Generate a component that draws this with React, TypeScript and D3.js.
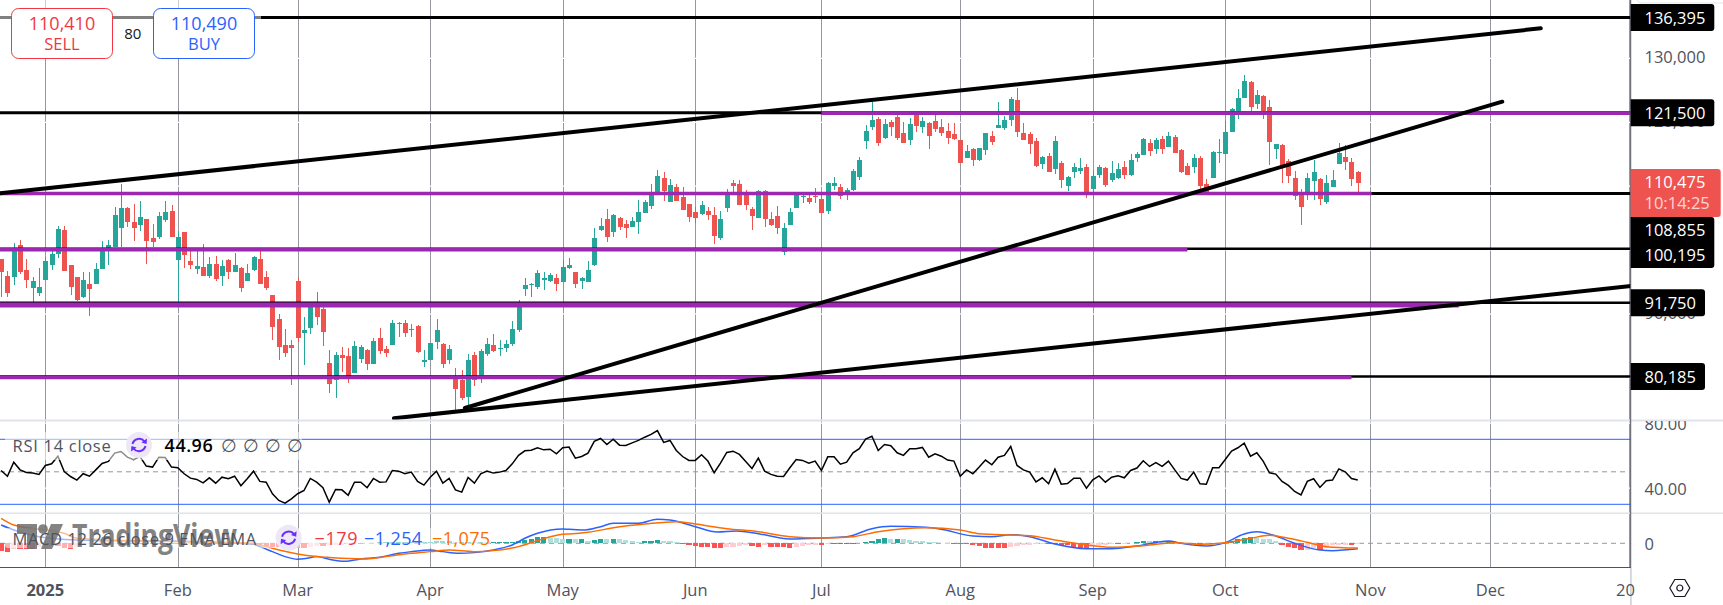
import React from 'react';
import * as d3 from 'd3';

const FIRST_BAR = -7;
const opens = [
98590,95930,95770,100780,96870,94050,93270,95300,97650,99370,
103130,97650,95770,92640,94670,94670,97020,100000,100420,103440,
106580,104380,103910,104850,101880,102040,104700,106110,98430,102820,
98280,97020,97340,95930,97810,95930,98430,96550,97180,95140,
96870,98590,95770,92950,89190,85120,85120,95140,87000,87780,
91390,90760,82300,79640,83560,83400,80740,82930,84340,82150,
86220,84500,85120,88570,88570,87630,88100,82460,82770,85590,
85280,82770,80110,79640,76980,83560,80420,83710,85120,84500,
84650,85280,87470,93890,94570,94200,95300,95140,95610,94990,
97180,96550,95140,94990,97650,103130,104850,102820,105010,104070,
103600,104380,105790,106890,109130,111270,107520,109870,108300,107200,
105950,105640,106110,105480,101880,106580,110490,110330,108610,106420,
105010,109240,104850,105320,99690,103910,106580,108350,108140,108450,
107990,106110,110020,109870,109080,109400,111430,117070,119260,120510,
117540,120040,120830,118320,117230,121400,119260,119890,120200,119260,
118630,118170,117230,114410,115820,114090,115660,117850,119100,119100,
120360,123490,118320,118170,117070,113470,114720,112680,113620,110020,
112210,112370,113000,109550,111740,112840,110960,111270,113000,111740,
114410,114880,116760,115820,117380,116130,117700,115660,113150,113000,
114410,110340,111270,115240,115030,118480,121820,123800,126310,122860,
124120,122390,115820,116440,113940,111270,108610,108770,110800,111120,
107520,109870,113470,114560,113780,112210];
const highs = [
98590,96710,101100,101570,98590,95770,97180,98900,99890,103760,
103760,97650,95770,96550,96550,97960,101410,101570,106730,110330,
106730,107200,107670,104850,104070,105950,107670,107050,102970,102820,
100000,100000,100940,98900,99060,98430,98590,99530,97340,97810,
99060,100000,96710,92950,89980,87630,85900,95770,89510,91390,
93420,91390,84340,84030,84810,84650,85750,85120,84500,86220,
87780,84970,89040,88720,89040,88410,88250,84340,85440,89190,
85440,85120,81520,81210,83710,84030,84500,86220,86850,85900,
85900,88880,92170,95610,94830,96870,96550,96400,96240,98430,
98750,96550,95770,98280,103440,105010,106420,105640,105170,104700,
105170,107830,107830,110330,112530,112210,111120,110330,109870,107200,
106730,107670,106730,106730,106110,109550,110960,110960,109400,106730,
109400,109400,105950,106890,104230,106580,108930,108930,108610,109710,
108610,110650,111430,110330,109710,112680,114560,119570,123180,120830,
120510,120360,121140,120040,120670,121660,120830,120040,121140,120510,
119890,119890,117230,116440,115970,115970,118320,118630,123180,120980,
123960,125370,119890,118480,117540,114720,115190,117850,113940,111590,
113620,114410,113470,112530,113310,113000,113940,113620,113940,115030,
115350,117540,117380,117540,117850,118480,118010,115820,113620,115030,
114720,111120,115500,117380,120200,122240,125210,127400,126460,125060,
124270,123490,116600,116600,114250,112370,109550,112060,114090,111270,
111740,112530,116760,116440,114410,112370];
const lows = [
92590,92690,94520,96240,94050,91910,92800,95300,96870,98750,
96710,92950,92010,92480,89660,94670,97020,97650,100420,100420,
103600,101410,102970,97810,100420,101720,104380,102040,91960,97180,
97020,96240,95930,95610,95140,94360,95460,96550,93420,95140,
96710,94670,93740,85900,82770,83240,78860,85590,81990,86850,
88250,84970,77610,76820,80890,79120,80740,82300,81210,82150,
83710,83240,85120,86370,86370,86370,83870,81680,82770,84500,
81520,82150,74940,76510,75410,78700,79170,83400,84030,83400,
84030,84970,87160,92800,92640,93890,93740,94990,93580,94990,
97020,94050,93890,94990,97490,102970,101250,102040,103130,101880,
103600,102500,105790,106420,109130,107670,107520,107670,106260,104380,
104230,105480,104700,100940,101570,105950,108610,107050,106260,103130,
105010,103600,103760,102500,99220,103910,106580,107360,107200,107360,
105790,105640,109400,107990,107830,109240,110960,115820,118790,116290,
117380,117850,117230,116760,116440,118480,118320,115820,118480,117850,
116600,117230,113620,114410,113150,113940,114880,116440,119100,118790,
119420,117700,117230,115030,113000,112680,112210,111900,109710,109240,
111270,111900,108140,107990,111270,109870,110650,111120,111120,111590,
113780,114880,114720,115030,115030,116130,115190,112060,111740,112060,
109400,108870,111270,113620,115030,118480,120510,123800,121770,122080,
120510,113310,114250,110490,110490,107830,103910,107830,107830,107050,
107200,109870,113470,112530,110020,109080];
const closes = [
96550,93270,100100,96550,95300,95140,94200,98280,99370,103290,
96710,94200,92170,95300,93890,97020,99840,100780,105480,106580,
104380,103440,105170,101410,101250,105320,105950,102040,102040,99220,
97650,97490,95930,97810,95460,97490,96550,97650,94050,96400,
98900,94670,94050,87940,84810,83870,84650,86220,87470,91390,
89510,87160,79010,83560,83090,79900,84970,84810,82150,85750,
84180,83870,88570,88410,87000,87520,84030,82770,85440,87470,
82150,84500,78230,76820,82770,79640,84180,85280,84180,84600,
85280,87630,91390,94520,94670,96400,95610,96080,94670,97340,
97650,94670,95610,96870,101880,103760,102040,105480,103600,103440,
104540,105950,107520,108610,111590,109240,110180,107670,106260,105170,
105010,107050,105480,102190,104850,108610,110020,107050,107050,105320,
109240,104850,103910,103440,103440,105950,108610,108450,107520,108350,
105790,110490,110490,108450,109400,112370,114090,118630,120360,116760,
119730,119260,117540,116760,119730,119420,120200,117850,118950,118320,
117540,117380,113620,115500,114090,115970,118320,116910,119570,120360,
123650,118480,117230,116600,113150,114560,112210,117070,110960,111430,
113000,112840,109080,111590,113000,110180,112060,112680,111740,114090,
115030,117380,115500,117230,115820,117850,115190,112210,111740,114410,
110020,109080,115350,115350,118480,122080,123800,126460,122390,124270,
121770,116910,116600,113000,111590,108450,106730,111270,112210,107990,
110490,110960,115190,113780,111120,110475];

const rsi = [
50.8,47.3,55.9,51.2,49.6,49.2,48.4,53.9,54.9,59.6,
50.2,47.1,44.9,48.8,47.3,51.2,55.1,56.4,61.5,62.5,
59.0,57.4,59.4,53.5,52.9,59.0,58.8,52.9,52.5,48.8,
46.1,45.3,43.2,46.3,43.0,46.7,45.7,47.3,41.4,45.7,
50.4,44.1,43.6,36.5,32.4,30.7,33.4,36.5,38.5,45.9,
43.6,40.2,31.3,39.1,38.9,35.6,43.6,43.6,40.2,45.9,
43.6,43.8,50.8,50.4,48.8,49.8,44.1,41.8,46.7,50.4,
43.0,45.9,38.9,37.5,46.5,43.0,48.8,50.4,49.2,49.8,
50.8,54.9,60.1,62.9,63.3,64.8,63.5,63.9,61.1,64.8,
65.2,58.4,
59.4,61.5,68.7,70.5,66.8,70.1,66.4,66.2,67.8,69.3,
71.3,73.0,75.4,68.1,69.3,63.1,59.4,57.0,57.0,60.5,
56.6,49.4,55.3,61.9,62.7,60.7,56.4,52.1,58.4,50.4,
48.4,47.3,47.1,52.5,57.6,57.0,55.3,56.6,50.8,59.2,
59.2,54.7,55.9,61.7,64.2,70.1,71.9,63.1,66.8,66.0,
61.7,60.1,64.2,64.2,65.0,59.0,61.1,59.6,57.2,56.6,
47.3,51.2,48.8,52.9,57.2,54.3,59.0,60.1,65.6,53.9,
51.2,49.8,43.8,46.3,42.6,51.6,42.4,42.8,46.1,46.1,
39.9,45.1,47.5,43.6,46.7,47.5,46.3,50.8,52.3,56.8,
53.3,55.7,53.3,56.6,51.2,45.9,44.9,49.8,42.6,42.4,
52.5,52.5,57.6,62.7,64.8,67.6,59.6,61.7,56.6,49.4,
48.6,44.1,41.6,37.9,35.8,44.1,45.7,40.4,44.5,44.9,
51.8,50.0,45.9,44.96];

const macdHist = [
-1650,-1875,-1350,-1350,-1350,-1350,-900,-750,-600,-600,
-1050,-1200,-750,-450,-225,-225,-150,-150,-75,-75,
-75,-75,75,75,75,75,75,75,75,75,
0,-75,-75,-75,-150,-150,-150,-225,-225,-225,
-300,-450,-600,-750,-750,-900,-975,-1050,
-1050,-750,-600,-600,-450,-375,-300,-150,-75,-75,
150,150,225,225,225,300,300,300,375,375,375,450,450,450,375,375,375,300,300,225,
225,225,300,375,450,750,1050,1350,1500,
1200,1125,975,975,900,
900,600,750,1050,975,1050,900,750,600,375,450,525,675,525,450,300,
-75,-300,-600,-750,-750,-1050,-1050,-900,-750,-600,-450,-600,-750,-450,-750,-750,-900,-1050,-750,-525,
-375,-300,-375,-150,0,0,75,75,150,300,600,900,1200,1050,1050,900,750,600,450,300,
225,150,75,-75,-150,-225,-375,-600,-1050,-1050,-1050,-1050,-900,-600,-450,-300,-150,-75,-75,-225,
-375,-450,-750,-1050,-1100,-600,-450,-300,-225,-225,-75,150,375,525,450,600,375,525,225,75,
0,-75,-150,-75,0,75,375,600,900,1125,1350,1200,1050,900,600,-300,-900,-1125,-1500,-1450,
-1125,-1500,-1050,-450,-375,-300,-450,-179];

const macdBars = [-7,-5,-1,5,10,16,24,33,34,36,38,40,41.5,43,45,47.5,50,53,56,58,61,63,65.5,68,71,74,76,78,82,83,85.5,88,90,94,97,99,103,106.5,109.5,113,118,123,127,131,134,139.5,142,147,150,153,156,160,165,169,173,178,180,184,187,190,192,195,198,202,204,208];
const macdLine = [4125,3000,1500,750,600,600,375,-225,-750,-1875,-3000,-3600,-3375,-3000,-3600,-4050,-3525,-3150,-2250,-1875,-1500,-1875,-2250,-2100,-1500,-375,1125,2250,3225,3150,3000,3750,4500,4500,5400,5250,3750,2550,2775,2175,975,1200,1500,3300,3825,3600,3150,1650,1500,1950,1500,-150,-1200,-1200,-600,525,0,-600,150,2100,2625,1650,0,-1500,-1650,-1254];
const signalBars = [-7,-5,3,5,10,16,24,33,34,36,40,43,47,51,54,58,61,64,68,71,75,78,82,83,86,91,95,100,103,108,113,118,123,128,132,136,139.5,145,148,153,156,160,165,169,173.5,179,183,187,191,194,197,200,203,208];
const signalLine = [5625,4125,2250,1125,750,525,300,0,-375,-1125,-2400,-3000,-3375,-3525,-3000,-2250,-1875,-1500,-1875,-1650,-750,600,2025,2100,2475,3750,4350,4875,4350,3300,2625,1500,1200,1500,2625,3300,3525,3000,2175,1875,1725,750,-375,-900,-600,150,-225,150,1125,1800,1125,225,-750,-1075];

const priceTicks = [130000, 120000, 110000, 100000, 90000, 80000];
const rsiTicks = [80, 40];
const monthBars = [0, 21, 40, 61, 82, 103, 123, 145, 166, 187, 210, 229, 251];
const monthLabels = ['2025', 'Feb', 'Mar', 'Apr', 'May', 'Jun', 'Jul', 'Aug', 'Sep', 'Oct', 'Nov', 'Dec', '20'];
const levelPrices = [136395, 121500, 108855, 100195, 91750, 80185];
const purpleLevels = [121430, 108855, 100060, 91380, 80030];
const purpleFrom = [123, -8, -8, -8, -8];
const purpleTo = [252, 210.2, 181, 224, 207];
const trendLines: [number, number, number, number][] = [
  [-7.18, 108878, 237, 134717],
  [66.5, 75256, 230.9, 123223],
  [55.26, 73643, 251.3, 94361],
];

const W = 1723, H = 605, AXIS_X = 1630.7;
const FONT = '"Open Sans", sans-serif';
const TXT = '#50535e';

const x = d3.scaleLinear().domain([0, 210]).range([45.3, 1370.4]);
const y = d3.scaleLinear().domain([121500, 80185]).range([112.7, 376.5]);
const yRsi = d3.scaleLinear().domain([70, 30]).range([439.3, 504.3]);
const yMacd = d3.scaleLinear().domain([0, -1000]).range([543.3, 547.74]);
const fmt = d3.format(',');
const barOf = (i: number) => FIRST_BAR + i;

const macdPath = d3.line<number>().x((_, i) => x(macdBars[i])).y(d => yMacd(d)).curve(d3.curveMonotoneX);
const signalPath = d3.line<number>().x((_, i) => x(signalBars[i])).y(d => yMacd(d)).curve(d3.curveMonotoneX);
const rsiPath = d3.line<number>().x((_, i) => x(barOf(i))).y(d => yRsi(d));

function histColor(i: number) {
  const v = macdHist[i], p = i > 0 ? macdHist[i - 1] : v;
  if (v >= 0) return v >= p ? '#26a69a' : '#b2dfdb';
  return v <= p ? '#ff5252' : '#ffcdd2';
}

function Refresh({ cx, cy }: { cx: number; cy: number }) {
  return (
    <g transform={`translate(${cx},${cy})`}>
      <circle r={13} fill="#ede7f6" />
      <path d="M-6.5,-1 A6.8,6.8 0 0 1 5.5,-3.5" fill="none" stroke="#6a2dff" strokeWidth={2} />
      <path d="M6.5,1 A6.8,6.8 0 0 1 -5.5,3.5" fill="none" stroke="#6a2dff" strokeWidth={2} />
      <path d="M8,-6.5 L7.6,-1 L2.4,-2.6 Z" fill="#6a2dff" />
      <path d="M-8,6.5 L-7.6,1 L-2.4,2.6 Z" fill="#6a2dff" />
    </g>
  );
}

function Tag({ top, bottom, right, fill = '#000' }: { top: number; bottom: number; right: number; fill?: string }) {
  return <path d={`M${AXIS_X},${top} H${right - 3} Q${right},${top} ${right},${top + 3} V${bottom - 3} Q${right},${bottom} ${right - 3},${bottom} H${AXIS_X} Z`} fill={fill} />;
}

export default function App() {
  const tagText = { x: 1644.5, fontSize: 16.5, fontFamily: FONT, fontWeight: 500, dominantBaseline: 'central' as const };
  return (
    <svg width={W} height={H} viewBox={`0 0 ${W} ${H}`} style={{ position: 'fixed', left: 0, top: 0, background: '#fff' }}>
      <defs>
        <clipPath id="plot"><rect x={0} y={0} width={AXIS_X} height={420} /></clipPath>
        <clipPath id="scale"><rect x={AXIS_X} y={421} width={100} height={92} /></clipPath>
      </defs>

      {/* vertical grid */}
      {monthBars.map(b => (
        <line key={b} x1={Math.round(x(b)) + 0.5} x2={Math.round(x(b)) + 0.5} y1={0} y2={567} stroke="#9598a1" strokeWidth={1} />
      ))}
      {/* white horizontal grid */}
      {priceTicks.map(p => <line key={p} x1={0} x2={AXIS_X} y1={y(p)} y2={y(p)} stroke="#fff" strokeWidth={1.2} />)}
      {rsiTicks.map(p => <line key={p} x1={0} x2={AXIS_X} y1={yRsi(p)} y2={yRsi(p)} stroke="#fff" strokeWidth={1.2} />)}

      {/* candles */}
      <g shapeRendering="crispEdges">
        {closes.map((c, i) => {
          const o = opens[i], up = c >= o, col = up ? '#26a69a' : '#ef5350';
          const cx = Math.round(x(barOf(i)));
          const t = y(Math.max(o, c)), b = y(Math.min(o, c));
          return (
            <g key={i}>
              <rect x={cx} y={y(highs[i])} width={1} height={y(lows[i]) - y(highs[i])} fill={col} />
              <rect x={cx - 2} y={t} width={5} height={Math.max(1, b - t)} fill={col} />
            </g>
          );
        })}
      </g>

      {/* horizontal levels */}
      {levelPrices.map((p, i) => (
        <line key={p} x1={0} x2={AXIS_X} y1={y(p)} y2={y(p)} stroke="#000" strokeWidth={i < 3 ? 3 : 2.5} />
      ))}
      {purpleLevels.map((p, i) => (
        <line key={p} x1={Math.max(0, x(purpleFrom[i]))} x2={Math.min(AXIS_X, x(purpleTo[i]))} y1={y(p)} y2={y(p)} stroke="#9c27b0" strokeWidth={i === 3 ? 5 : 3.6} />
      ))}

      {/* trend lines */}
      <g clipPath="url(#plot)">
        {trendLines.map((t, i) => (
          <line key={i} x1={x(t[0])} y1={y(t[1])} x2={x(t[2])} y2={y(t[3])} stroke="#000" strokeWidth={4} strokeLinecap="round" />
        ))}
      </g>

      {/* pane separators */}
      <rect x={0} y={419.5} width={W} height={2} fill="#e0e3eb" />
      <rect x={0} y={512.5} width={W} height={1.5} fill="#e0e3eb" />

      {/* RSI pane */}
      <line x1={0} x2={AXIS_X} y1={yRsi(70)} y2={yRsi(70)} stroke="#2962ff" strokeWidth={1} />
      <line x1={0} x2={AXIS_X} y1={yRsi(30)} y2={yRsi(30)} stroke="#2962ff" strokeWidth={1} />
      <line x1={0} x2={AXIS_X} y1={yRsi(50)} y2={yRsi(50)} stroke="#9598a1" strokeWidth={1} strokeDasharray="5 4" />
      <path d={rsiPath(rsi) || ''} fill="none" stroke="#000" strokeWidth={1.5} />

      {/* MACD pane */}
      <line x1={0} x2={AXIS_X} y1={yMacd(0)} y2={yMacd(0)} stroke="#9598a1" strokeWidth={1} strokeDasharray="5 4" />
      <g shapeRendering="crispEdges">
        {macdHist.map((v, i) => {
          const cx = x(barOf(i));
          const a = yMacd(Math.max(v, 0)), b = yMacd(Math.min(v, 0));
          return <rect key={i} x={cx - 2.6} y={a} width={5.2} height={Math.max(0.6, b - a)} fill={histColor(i)} />;
        })}
      </g>
      <path d={macdPath(macdLine) || ''} fill="none" stroke="#2962ff" strokeWidth={1.5} />
      <path d={signalPath(signalLine) || ''} fill="none" stroke="#ff6d00" strokeWidth={1.5} />

      {/* legend backdrops */}
      <rect x={5} y={432} width={297} height={28} rx={3} fill="#fff" opacity={0.55} />
      <rect x={5} y={528} width={485} height={20} rx={3} fill="#fff" opacity={0.55} />

      {/* watermark */}
      <g fill="#6e6e6e" opacity={0.85}>
        <path d="M17,524 H37 V549 H27 V534 H17 Z" />
        <circle cx={43} cy={529} r={4.8} />
        <path d="M51,524 H63 L52,549 H41 Z" />
        <text x={72} y={547} fontFamily={FONT} fontWeight={700} fontSize={32} textLength={165} lengthAdjust="spacingAndGlyphs">TradingView</text>
      </g>

      {/* legends */}
      <g fontFamily={FONT} fontSize={16.5} dominantBaseline="central">
        <text x={12.6} y={445} fill={TXT} letterSpacing={0.7}>RSI 14 close</text>
        <text x={164.6} y={445} fill="#000" fontWeight={600} fontSize={18} letterSpacing={0.5}>44.96</text>
        {[228.6, 250.8, 272.7, 294.5].map(px => <text key={px} x={px} y={445} fill={TXT} fontSize={18} textAnchor="middle">∅</text>)}
        <text x={12.6} y={538} fill={TXT} letterSpacing={0.6}>MACD 12 26 close 9 EMA EMA</text>
        <text x={314.5} y={538} fill="#f23645" fontSize={18} letterSpacing={0.6}>−179</text>
        <text x={364} y={538} fill="#2962ff" fontSize={18} letterSpacing={0.4}>−1,254</text>
        <text x={432} y={538} fill="#ff6d00" fontSize={18} letterSpacing={0.4}>−1,075</text>
      </g>
      <Refresh cx={139} cy={445} />
      <Refresh cx={288.6} cy={537.7} />

      {/* trade box */}
      <rect x={0} y={0} width={261} height={24} fill="#fff" opacity={0.5} />
      <rect x={11.5} y={8.5} width={101} height={50} rx={7} fill="#fff" stroke="#f23645" />
      <rect x={153.5} y={8.5} width={101} height={50} rx={7} fill="#fff" stroke="#2962ff" />
      <g fontFamily={FONT} textAnchor="middle" dominantBaseline="central">
        <text x={62} y={23} fontSize={18} fill="#f23645">110,410</text>
        <text x={62} y={43} fontSize={16.5} fill="#f23645">SELL</text>
        <text x={204} y={23} fontSize={18} fill="#2962ff">110,490</text>
        <text x={204} y={43} fontSize={16.5} fill="#2962ff">BUY</text>
        <text x={132.8} y={33} fontSize={15} fill="#131722">80</text>
      </g>

      {/* axes */}
      <rect x={AXIS_X} y={0} width={W - AXIS_X} height={419} fill="#fff" />
      <rect x={1637} y={-6} width={100} height={9} rx={5} fill="#fff" stroke="#e0e3eb" />
      <line x1={0} x2={AXIS_X} y1={567.5} y2={567.5} stroke={TXT} strokeWidth={1} />
      <line x1={AXIS_X} x2={AXIS_X} y1={0} y2={H} stroke={TXT} strokeWidth={1} />

      {priceTicks.map(p => (
        <text key={p} x={1644.5} y={y(p) - 1.5} fontSize={16.5} fontFamily={FONT} fill={TXT} dominantBaseline="central">{fmt(p)}</text>
      ))}
      <g clipPath="url(#scale)">
        {rsiTicks.map(p => (
          <text key={p} x={1644.5} y={yRsi(p)} fontSize={16.5} fontFamily={FONT} fill={TXT} dominantBaseline="central">{p.toFixed(2)}</text>
        ))}
      </g>
      <text x={1644.5} y={yMacd(0)} fontSize={16.5} fontFamily={FONT} fill={TXT} dominantBaseline="central">0</text>

      <Tag top={y(136395) - 13.5} bottom={y(136395) + 13.5} right={1714.3} />
      <text {...tagText} y={y(136395)} fill="#fff">{fmt(136395)}</text>
      <Tag top={y(121500) - 13.5} bottom={y(121500) + 13.5} right={1714.3} />
      <text {...tagText} y={y(121500)} fill="#fff">{fmt(121500)}</text>
      <Tag top={217} bottom={268} right={1714.3} />
      <text {...tagText} y={229} fill="#fff">{fmt(108855)}</text>
      <text {...tagText} y={254} fill="#fff">{fmt(100195)}</text>
      <Tag top={y(91750) - 13.5} bottom={y(91750) + 13.5} right={1705} />
      <text {...tagText} y={y(91750)} fill="#fff">{fmt(91750)}</text>
      <Tag top={y(80185) - 13.5} bottom={y(80185) + 13.5} right={1705} />
      <text {...tagText} y={y(80185)} fill="#fff">{fmt(80185)}</text>
      <Tag top={169} bottom={217} right={1720.7} fill="#ef5350" />
      <text {...tagText} y={181.7} fill="#fff">{fmt(110475)}</text>
      <text {...tagText} y={202.3} fill="#fff" opacity={0.75}>10:14:25</text>

      {/* time axis labels */}
      <rect x={0} y={568} width={AXIS_X} height={37} fill="#fff" />
      {monthBars.map((b, i) => (
        <text key={b} x={i === 12 ? 1616 : x(b)} y={589} fontSize={16.5} fontFamily={FONT} fill={TXT} fontWeight={i === 0 ? 700 : 500}
          textAnchor={i === 12 ? 'start' : 'middle'} dominantBaseline="central">{monthLabels[i]}</text>
      ))}

      {/* settings */}
      <g transform="translate(1679.8,588)" fill="none" stroke="#131722" strokeWidth={1.2}>
        <path d="M-10,0 L-5,-8.5 H5 L10,0 L5,8.5 H-5 Z" />
        <circle r={3} />
      </g>
    </svg>
  );
}
